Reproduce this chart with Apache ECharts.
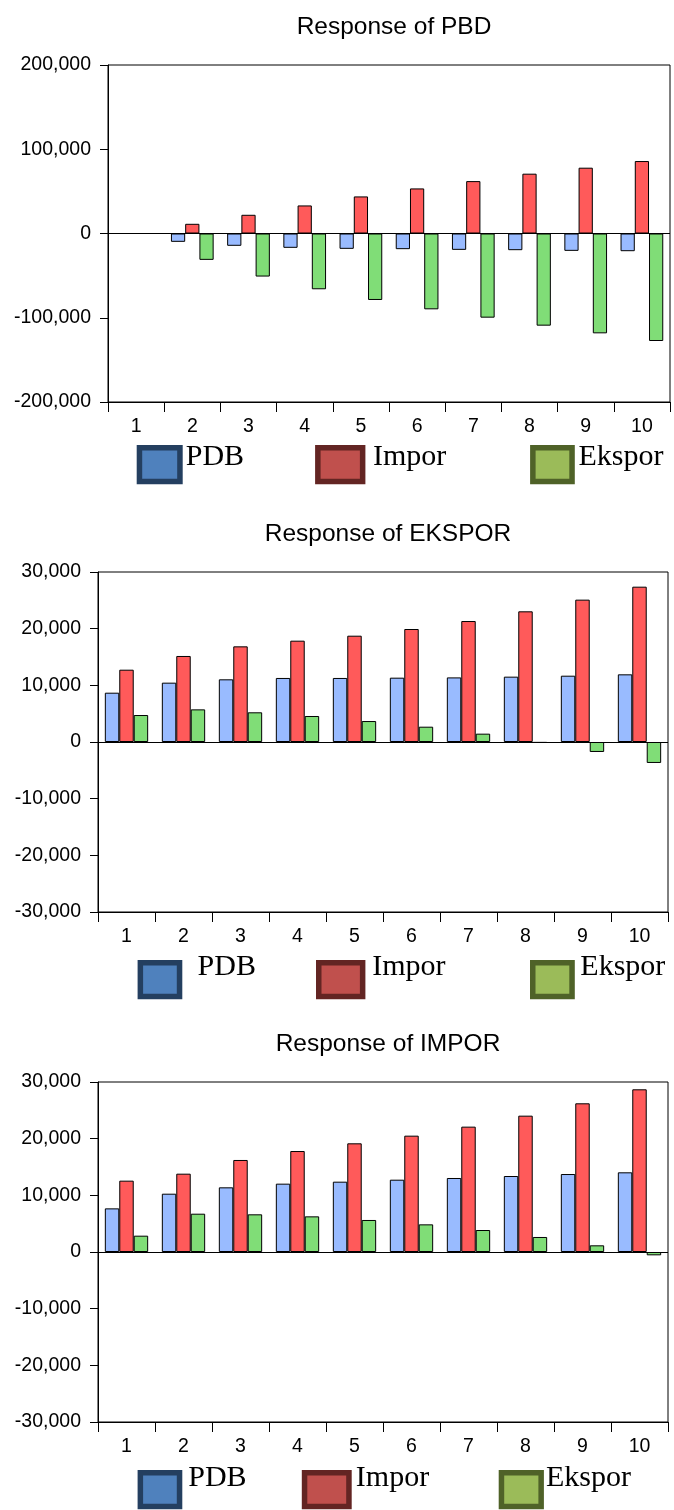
<!DOCTYPE html>
<html>
<head>
<meta charset="utf-8">
<script src="https://cdn.jsdelivr.net/npm/echarts@6/dist/echarts.min.js"></script>
<style>
html,body{margin:0;padding:0;background:#fff;}
#c{width:674px;height:1510px;}
</style>
</head>
<body>
<div id="c"></div>
<script>
// ---- data ----
const categories = ['1','2','3','4','5','6','7','8','9','10'];
const seriesNames = ['PDB','Impor','Ekspor'];
const panelTitles = ['Response of PBD','Response of EKSPOR','Response of IMPOR'];

// Response of PBD
const pbdPDB    = [0, -9900, -14600, -17000, -18200, -18600, -19400, -19800, -20600, -21000];
const pbdImpor  = [0, 11500, 22200, 33300, 44000, 53500, 62200, 71000, 78100, 86000];
const pbdEkspor = [0, -31300, -51100, -66200, -78900, -90000, -99900, -109400, -118500, -127600];

// Response of EKSPOR
const eksPDB    = [8700, 10470, 11060, 11300, 11300, 11350, 11400, 11530, 11700, 11940];
const eksImpor  = [12760, 15180, 16880, 17880, 18760, 19940, 21350, 23060, 25120, 27410];
const eksEkspor = [4760, 5760, 5240, 4590, 3700, 2700, 1470, -150, -1760, -3700];

// Response of IMPOR
const impPDB    = [7700, 10290, 11410, 12060, 12410, 12760, 13060, 13410, 13760, 14060];
const impImpor  = [12590, 13820, 16240, 17820, 19180, 20530, 22120, 24060, 26240, 28710];
const impEkspor = [2880, 6760, 6650, 6290, 5650, 4880, 3880, 2650, 1180, -590];

// y-axis ranges (min, max, interval)
const yMins = [-200000, -30000, -30000];
const yMaxs = [200000, 30000, 30000];
const yIntervals = [100000, 10000, 10000];

// ---- styling ----
const barColors = ['#99BBFF', '#FF5A5A', '#80DD77'];
const legendFill = ['#4F81BD', '#C0504D', '#9BBB59'];
const legendBorder = ['#243F60', '#632523', '#4F6228'];

const panelData = [
  [pbdPDB, pbdImpor, pbdEkspor],
  [eksPDB, eksImpor, eksEkspor],
  [impPDB, impImpor, impEkspor]
];

const grids = [
  {left:108, top:65, width:562, height:337},
  {left:98, top:572, width:570, height:340},
  {left:98, top:1082, width:570, height:340}
];

const legendLayout = [
  {top:445, h:39.3, base:466.7, boxes:[[136.7,46],[315.1,50.3],[530.1,44.7]], tx:[186.7,374,579.5]},
  {top:960, h:39.3, base:976.7, boxes:[[137.6,44.7],[316,49.4],[530,44.8]], tx:[198.6,373.2,581.3]},
  {top:1470, h:39.3, base:1488.3, boxes:[[137.6,44.7],[301.8,49.9],[498.7,45.2]], tx:[189.2,356.8,546.9]}
];

const fmt = v => v.toLocaleString('en-US');

const option = {
  animation:false,
  backgroundColor:'#fff',
  title: panelTitles.map((t,i)=>({
    text:t,
    left: grids[i].left + grids[i].width/2,
    top: grids[i].top - 55,
    textAlign:'center',
    textStyle:{fontFamily:'Liberation Sans, Arial, sans-serif', fontSize:24.5, fontWeight:'normal', color:'#000'}
  })),
  grid: grids.map(g=>Object.assign({show:true, borderColor:'#000', borderWidth:1, backgroundColor:'#fff'}, g)),
  xAxis: grids.map((g,i)=>({
    type:'category', gridIndex:i, data:categories,
    axisLine:{onZero:false, lineStyle:{color:'#000', width:1}},
    axisTick:{show:true, length:10, lineStyle:{color:'#000'}},
    axisLabel:{color:'#000', fontSize:19.5, fontFamily:'Liberation Sans, Arial, sans-serif', margin:15},
    splitLine:{show:false}
  })),
  yAxis: grids.map((g,i)=>({
    type:'value', gridIndex:i, min:yMins[i], max:yMaxs[i], interval:yIntervals[i],
    axisLine:{show:true, lineStyle:{color:'#000', width:1}},
    axisTick:{show:true, length:8, lineStyle:{color:'#000'}},
    axisLabel:{color:'#000', fontSize:19.5, fontFamily:'Liberation Sans, Arial, sans-serif', margin:17, formatter:fmt, padding:[0,0,4,0]},
    splitLine:{show:false}
  })),
  series: [],
  graphic: []
};

panelData.forEach((arrs,p)=>{
  arrs.forEach((arr,s)=>{
    const ser = {
      type:'bar', name:seriesNames[s], xAxisIndex:p, yAxisIndex:p, data:arr,
      barGap:'0%', barCategoryGap:'24%',
      itemStyle:{color:barColors[s], borderColor:'#000', borderWidth:1},
      emphasis:{disabled:true}
    };
    if (s===0) {
      ser.markLine = {silent:true, symbol:['none','none'], label:{show:false},
        lineStyle:{color:'#000', width:1, type:'solid'}, data:[{yAxis:0}]};
    }
    option.series.push(ser);
  });
  const L = legendLayout[p];
  const lw = 5.5;
  seriesNames.forEach((n,s)=>{
    const [bx,bw] = L.boxes[s];
    option.graphic.push({
      type:'rect', silent:true,
      shape:{x:bx+lw/2, y:L.top+lw/2, width:bw-lw, height:L.h-lw},
      style:{fill:legendFill[s], stroke:legendBorder[s], lineWidth:lw}
    });
    option.graphic.push({
      type:'text', silent:true,
      style:{text:n, x:L.tx[s]-1, y:L.base-10, fill:'#000',
        font:'30px "Liberation Serif", "Times New Roman", serif',
        textAlign:'left', textVerticalAlign:'middle', verticalAlign:'middle'}
    });
  });
});

const chart = echarts.init(document.getElementById('c'), null, {renderer:'canvas'});
chart.setOption(option);
</script>
</body>
</html>
